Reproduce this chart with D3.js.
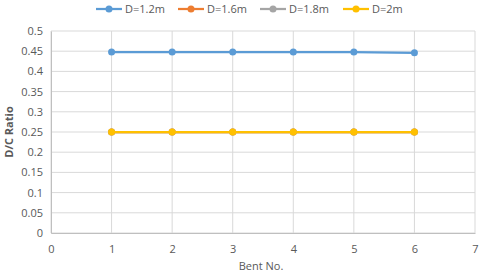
<!DOCTYPE html>
<html>
<head>
<meta charset="utf-8">
<script src="https://cdn.jsdelivr.net/npm/d3@7"></script>
<style>
  body { margin: 0; background: #fff; }
  text { font-family: "Open Sans", sans-serif; }
</style>
</head>
<body>
<svg id="chart"></svg>
<script>
        // Chart data
        const bents = [1, 2, 3, 4, 5, 6];
        const seriesNames = ['D=1.2m', 'D=1.6m', 'D=1.8m', 'D=2m'];
        const seriesColors = ['#5b9bd5', '#ed7d31', '#a5a5a5', '#ffc000'];
        const d12 = [0.448, 0.448, 0.448, 0.448, 0.448, 0.446];
        const d16 = [0.25, 0.25, 0.25, 0.25, 0.25, 0.25];
        const d18 = [0.25, 0.25, 0.25, 0.25, 0.25, 0.25];
        const d20 = [0.25, 0.25, 0.25, 0.25, 0.25, 0.25];
        const seriesValues = [d12, d16, d18, d20];
        const xTicks = [0, 1, 2, 3, 4, 5, 6, 7];
        const yTicks = [0, 0.05, 0.1, 0.15, 0.2, 0.25, 0.3, 0.35, 0.4, 0.45, 0.5];

        const W = 480, H = 280;
        const margin = { top: 31, right: 5, bottom: 47, left: 51 };
        const width = W - margin.left - margin.right;
        const height = H - margin.top - margin.bottom;

        const svg = d3.select('#chart')
            .attr('width', W)
            .attr('height', H);

        const g = svg.append('g')
            .attr('transform', `translate(${margin.left},${margin.top})`);

        const xScale = d3.scaleLinear().domain([0, 7]).range([0, width]);
        const yScale = d3.scaleLinear().domain([0, 0.5]).range([height, 0]);

        // Gridlines
        g.append('g')
            .selectAll('line')
            .data(yTicks)
            .join('line')
            .attr('x1', 0).attr('x2', width)
            .attr('y1', d => yScale(d)).attr('y2', d => yScale(d))
            .attr('stroke', '#d9d9d9').attr('stroke-width', 1);

        g.append('g')
            .selectAll('line')
            .data(xTicks)
            .join('line')
            .attr('y1', 0).attr('y2', height)
            .attr('x1', d => xScale(d)).attr('x2', d => xScale(d))
            .attr('stroke', '#d9d9d9').attr('stroke-width', 1);

        // Axes
        const yAxis = g.append('g')
            .call(d3.axisLeft(yScale).tickValues(yTicks).tickSize(0).tickPadding(8).tickFormat(d3.format('')));
        const xAxis = g.append('g')
            .attr('transform', `translate(0,${height})`)
            .call(d3.axisBottom(xScale).tickValues(xTicks).tickSize(0).tickPadding(12).tickFormat(d3.format('d')));

        [xAxis, yAxis].forEach(a => {
            a.select('.domain').attr('stroke', '#bfbfbf');
            a.selectAll('text')
                .attr('fill', '#595959')
                .style('font-size', '11px')
                .style('font-family', '"Open Sans", sans-serif');
        });

        // Lines and markers
        const line = d3.line()
            .x((d, i) => xScale(bents[i]))
            .y(d => yScale(d));

        seriesValues.forEach((vals, s) => {
            g.append('path')
                .datum(vals)
                .attr('d', line)
                .attr('fill', 'none')
                .attr('stroke', seriesColors[s])
                .attr('stroke-width', 2.25);
            g.append('g')
                .selectAll('circle')
                .data(vals)
                .join('circle')
                .attr('cx', (d, i) => xScale(bents[i]))
                .attr('cy', d => yScale(d))
                .attr('r', 3.5)
                .attr('fill', seriesColors[s]);
        });

        // Axis titles
        svg.append('text')
            .attr('x', margin.left + width / 2 - 2)
            .attr('y', 270)
            .attr('text-anchor', 'middle')
            .attr('fill', '#595959')
            .style('font-size', '11px')
            .text('Bent No.');

        svg.append('text')
            .attr('transform', `translate(13,${margin.top + height / 2}) rotate(-90)`)
            .attr('text-anchor', 'middle')
            .attr('fill', '#595959')
            .style('font-size', '11px')
            .style('font-weight', 'bold')
            .text('D/C Ratio');

        // Legend
        const legendX = [96, 178, 260, 343];
        const legend = svg.append('g');
        seriesNames.forEach((name, s) => {
            const lg = legend.append('g').attr('transform', `translate(${legendX[s]},9)`);
            lg.append('line')
                .attr('x1', 0).attr('x2', 26)
                .attr('stroke', seriesColors[s]).attr('stroke-width', 2.25);
            lg.append('circle').attr('cx', 13).attr('r', 3.5).attr('fill', seriesColors[s]);
            lg.append('text')
                .attr('x', 29).attr('y', 4)
                .attr('fill', '#595959')
                .style('font-size', '11px')
                .text(name);
        });
</script>
</body>
</html>
